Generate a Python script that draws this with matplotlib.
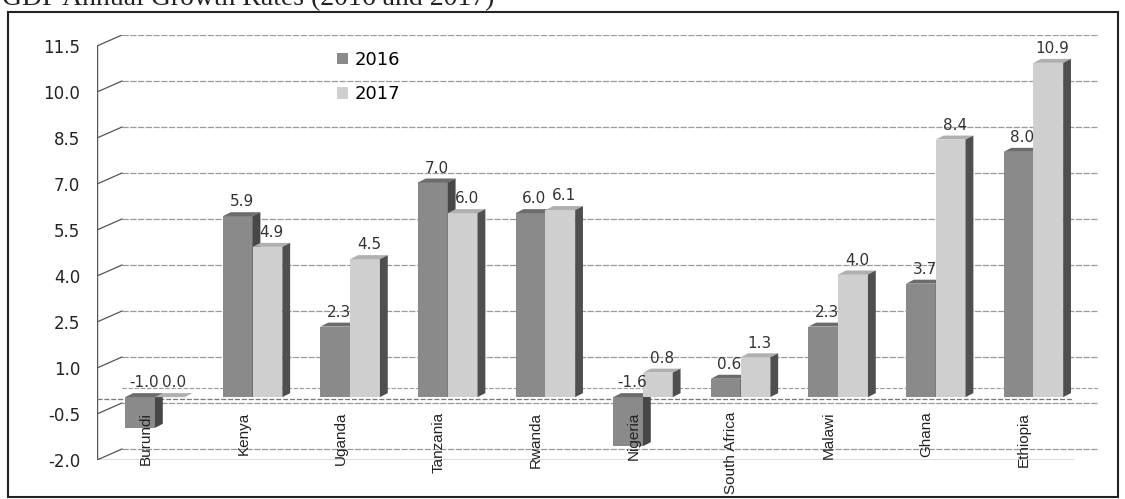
import matplotlib
matplotlib.use("Agg")
import matplotlib.pyplot as plt
from matplotlib.patches import Polygon, Rectangle, Patch

# data
countries = ["Burundi", "Kenya", "Uganda", "Tanzania", "Rwanda",
             "Nigeria", "South Africa", "Malawi", "Ghana", "Ethiopia"]
growth_2016 = [-1.0, 5.9, 2.3, 7.0, 6.0, -1.6, 0.6, 2.3, 3.7, 8.0]
growth_2017 = [0.0, 4.9, 4.5, 6.0, 6.1, 0.8, 1.3, 4.0, 8.4, 10.9]
yticks = [-2.0, -0.5, 1.0, 2.5, 4.0, 5.5, 7.0, 8.5, 10.0, 11.5]

# fake 3d geometry (data units)
WALL_DX, WALL_DY = 0.256, 0.359     # depth of the back wall
BAR_DX, BAR_DY = 0.08, 0.13         # depth of a bar
SHIFT_X, SHIFT_Y = 0.094, 0.05      # bars sit a bit behind the front plane
BAR_W = 0.305

styles = {
    "2016": dict(front="#8a8a8a", top="#6c6c6c", side="#474747"),
    "2017": dict(front="#cfcfcf", top="#b0b0b0", side="#4f4f4f"),
}

fig = plt.figure(figsize=(11.25, 4.99), dpi=100)
ax = fig.add_axes([97 / 1125, 39 / 499, 1001 / 1125, 425 / 499])
ax.set_xlim(-0.5, 9.5 + WALL_DX)
ax.set_ylim(-2.0, 11.5 + WALL_DY)
for s in ax.spines.values():
    s.set_visible(False)
ax.set_xticks([])
ax.set_yticks(yticks)
ax.set_yticklabels([f"{t:.1f}" for t in yticks])
ax.tick_params(axis="y", length=0, pad=12, labelsize=12, labelcolor="#222222")

grid_kw = dict(color="#9a9a9a", lw=0.9, ls=(0, (5, 1.2)), zorder=1)
x0, x1 = -0.5, 9.5
for t in yticks:
    ax.plot([x0 + WALL_DX, x1 + WALL_DX], [t + WALL_DY, t + WALL_DY], **grid_kw)
    ax.plot([x0, x0 + WALL_DX], [t, t + WALL_DY], color="#555555", lw=0.9, zorder=1)
ax.plot([x0, x0], [-2.0, 11.5], color="#555555", lw=1.0, zorder=1)
# floor front edge and the zero plane
ax.plot([x0, x1], [-2.0, -2.0], color="#555555", lw=1.0, zorder=1)
ax.plot([x0, x1], [0, 0], color="#777777", lw=0.9, ls=(0, (4, 1.5)), zorder=1)
ax.plot([x0 + WALL_DX, x1 + WALL_DX], [WALL_DY, WALL_DY], color="#9a9a9a",
        lw=0.8, ls=(0, (4, 1.5)), zorder=1)


def bar3d(left, value, st, z):
    lo = min(value, 0) + SHIFT_Y
    hi = max(value, 0) + SHIFT_Y
    r = left + BAR_W
    if hi > lo:
        ax.add_patch(Rectangle((left, lo), BAR_W, hi - lo, fc=st["front"],
                               ec="none", zorder=z))
    ax.add_patch(Polygon([(left, hi), (r, hi), (r + BAR_DX, hi + BAR_DY),
                          (left + BAR_DX, hi + BAR_DY)], closed=True,
                         fc=st["top"], ec="none", zorder=z))
    ax.add_patch(Polygon([(r, lo), (r, hi), (r + BAR_DX, hi + BAR_DY),
                          (r + BAR_DX, lo + BAR_DY)], closed=True,
                         fc=st["side"], ec="none", zorder=z))
    ax.annotate(f"{value:.1f}", xy=(left + (BAR_W + BAR_DX) / 2, hi + BAR_DY),
                xytext=(0, 2), textcoords="offset points", ha="center",
                va="bottom", fontsize=11, color="#333333", zorder=z + 1)


for i, name in enumerate(countries):
    c = i + SHIFT_X
    bar3d(c - BAR_W, growth_2016[i], styles["2016"], 3 + i * 0.01)
    bar3d(c, growth_2017[i], styles["2017"], 3 + i * 0.01 + 0.005)
    ax.annotate(name, xy=(i, 0), xytext=(0, -13), textcoords="offset pixels",
                rotation=90, ha="center", va="top", fontsize=11,
                family="Liberation Sans", color="#222222", zorder=6)

handles = [Patch(fc=styles["2016"]["front"], ec="none", label="2016"),
           Patch(fc=styles["2017"]["front"], ec="none", label="2017")]
ax.legend(handles=handles, loc="upper left",
          bbox_to_anchor=(337 / 1125, 1 - 51 / 499), bbox_transform=fig.transFigure,
          frameon=False, fontsize=13, handlelength=0.6, handleheight=0.6,
          handletextpad=0.35, labelspacing=0.9, borderpad=0, borderaxespad=0)

# outer frame and the cut-off heading
fig.patches.append(Rectangle((8 / 1125, 2 / 499), 1110 / 1125, 485 / 499,
                             transform=fig.transFigure, fill=False,
                             ec="#222222", lw=1.5))
fig.text(2 / 1125, 1 - 5 / 499, "GDP Annual Growth Rates (2016 and 2017)",
         va="baseline", ha="left", fontsize=20, family="Liberation Serif",
         color="#222222")

fig.savefig("out.png", dpi=100)
